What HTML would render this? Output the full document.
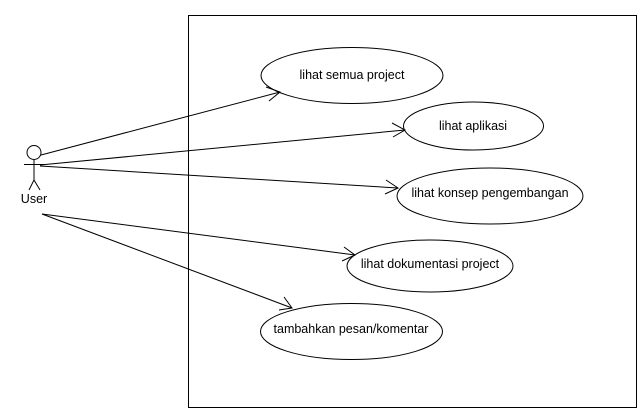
<!DOCTYPE html>
<html><head><style>
html,body{margin:0;padding:0;background:#fff;width:642px;height:419px;overflow:hidden}
svg{display:block}
text{font-family:"Liberation Sans",Arial,sans-serif;font-size:12.5px;fill:#000}
</style></head><body>
<svg width="642" height="419" viewBox="0 0 642 419">
<rect x="188.5" y="15.5" width="448" height="392" fill="none" stroke="#000" stroke-width="1"/>
<g fill="#fff" stroke="#000" stroke-width="1">
<ellipse cx="352" cy="75.5" rx="91" ry="28"/>
<ellipse cx="473.5" cy="126" rx="70" ry="24"/>
<ellipse cx="490" cy="196" rx="93" ry="28"/>
<ellipse cx="430" cy="266" rx="83" ry="26"/>
<ellipse cx="351.5" cy="331.5" rx="91" ry="28"/>
</g>
<g text-anchor="middle">
<text x="352" y="79">lihat semua project</text>
<text x="473" y="130">lihat aplikasi</text>
<text x="490" y="197">lihat konsep pengembangan</text>
<text x="430" y="268">lihat dokumentasi project</text>
<text x="351" y="333">tambahkan pesan/komentar</text>
</g>
<g stroke="#000" stroke-width="1" fill="none">
<circle cx="34" cy="152.5" r="7"/>
<line x1="34" y1="160" x2="34" y2="180"/>
<line x1="24" y1="164.5" x2="44" y2="164.5"/>
<line x1="34" y1="180" x2="29" y2="190"/>
<line x1="34" y1="180" x2="40" y2="190"/>
<line x1="41" y1="155" x2="280" y2="92"/>
<polyline points="266,87 280,92 269,101"/>
<line x1="40" y1="165" x2="405" y2="130"/>
<polyline points="392,123 405,130 393,137"/>
<line x1="40" y1="166" x2="398" y2="188"/>
<polyline points="386,180 398,188 385,194"/>
<line x1="42" y1="214" x2="355" y2="255"/>
<polyline points="344,247 355,255 342,261"/>
<line x1="42" y1="214" x2="292" y2="308"/>
<polyline points="284,297 292,308 279,310"/>
</g>
<text x="34" y="203" text-anchor="middle">User</text>
</svg>
</body></html>
